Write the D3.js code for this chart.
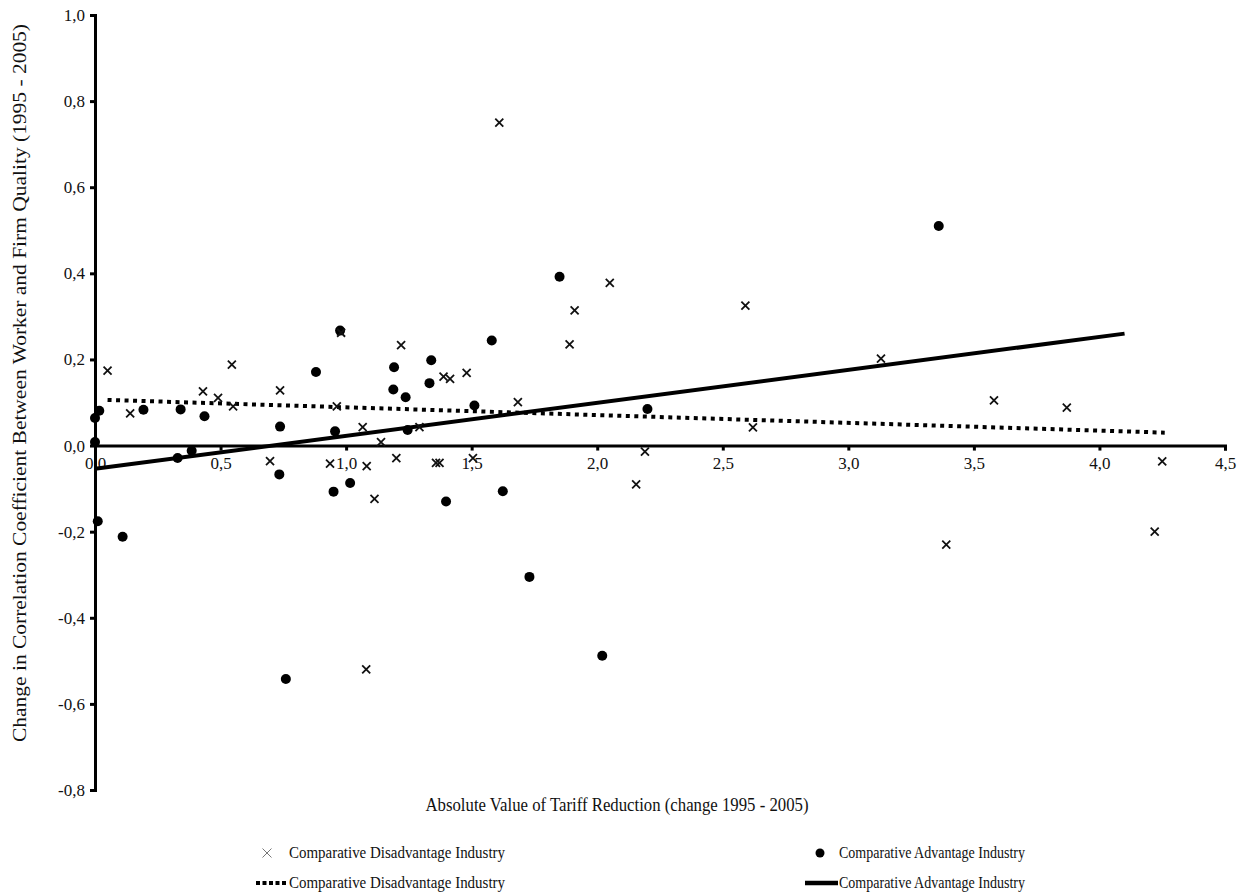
<!DOCTYPE html>
<html>
<head>
<meta charset="utf-8">
<script src="https://cdn.jsdelivr.net/npm/d3@7"></script>
<style>
  body { margin: 0; background: #fff; }
  text { font-family: "Liberation Serif", "Times New Roman", serif; fill: #111; }
</style>
</head>
<body>
<div id="chart-div"></div>
<script>
const WIDTH = 1245;
const HEIGHT = 896;

// Comparative Disadvantage Industry (crosses)
const disX = [0.05, 0.14, 0.43, 0.49, 0.545, 0.55, 0.697, 0.737, 0.936, 0.963, 0.98, 1.066, 1.082, 1.113, 1.139, 1.2, 1.219, 1.292, 1.358, 1.372, 1.388, 1.414, 1.48, 1.505, 1.684, 1.08, 1.61, 1.89, 1.91, 2.05, 2.155, 2.19, 2.59, 2.62, 3.13, 3.39, 3.58, 3.87, 4.22, 4.25];
const disY = [0.174, 0.075, 0.126, 0.111, 0.188, 0.091, -0.036, 0.128, -0.042, 0.091, 0.262, 0.043, -0.048, -0.124, 0.008, -0.029, 0.233, 0.043, -0.04, -0.04, 0.16, 0.155, 0.169, -0.029, 0.101, -0.52, 0.75, 0.235, 0.314, 0.378, -0.09, -0.014, 0.325, 0.042, 0.202, -0.23, 0.105, 0.088, -0.2, -0.037];

// Comparative Advantage Industry (dots)
const advX = [0, 0.017, 0, 0.011, 0.11, 0.193, 0.329, 0.341, 0.385, 0.436, 0.734, 0.737, 0.76, 0.88, 0.95, 0.956, 0.976, 1.016, 1.188, 1.191, 1.237, 1.245, 1.332, 1.339, 1.398, 1.511, 1.58, 1.624, 1.73, 1.85, 2.02, 2.2, 3.36];
const advY = [0.064, 0.081, 0.008, -0.176, -0.212, 0.083, -0.029, 0.084, -0.012, 0.068, -0.067, 0.044, -0.542, 0.171, -0.107, 0.033, 0.267, -0.087, 0.13, 0.182, 0.112, 0.036, 0.145, 0.198, -0.13, 0.093, 0.244, -0.106, -0.305, 0.392, -0.488, 0.085, 0.51];

// linear trend lines (end points)
const trendDisX = [0.05, 4.26];
const trendDisY = [0.106, 0.03];
const trendAdvX = [0, 4.1];
const trendAdvY = [-0.054, 0.26];

const xTicks = [0, 0.5, 1, 1.5, 2, 2.5, 3, 3.5, 4, 4.5];
const yTicks = [-0.8, -0.6, -0.4, -0.2, 0, 0.2, 0.4, 0.6, 0.8, 1.0];

const X_TITLE = "Absolute Value of Tariff Reduction (change 1995 - 2005)";
const Y_TITLE = "Change in Correlation Coefficient Between Worker and Firm Quality (1995 - 2005)";
const LEGEND = ["Comparative Disadvantage Industry", "Comparative Advantage Industry"];

const fmt = (d) => d.toFixed(1).replace(".", ",");

const svg = d3.select("#chart-div").append("svg")
  .attr("width", WIDTH)
  .attr("height", HEIGHT);

const xscale = d3.scaleLinear().domain([0, 4.5]).range([95, 1225]);
const yscale = d3.scaleLinear().domain([-0.8, 1.0]).range([790, 15]);

// y axis at x = 0
const yAxis = d3.axisLeft(yscale).tickValues(yTicks).tickFormat(fmt).tickSize(5).tickPadding(5);
const gy = svg.append("g")
  .attr("transform", `translate(${xscale(0)},0)`)
  .call(yAxis);
gy.select(".domain").attr("stroke", "#000").attr("stroke-width", 3);
gy.selectAll(".tick line").attr("stroke", "#000").attr("stroke-width", 3);
gy.selectAll(".tick text").style("font-size", "17px").attr("fill", "#222");

// x axis at y = 0
const xAxis = d3.axisBottom(xscale).tickValues(xTicks).tickFormat(fmt).tickSize(5).tickPadding(6);
const gx = svg.append("g")
  .attr("transform", `translate(0,${yscale(0)})`)
  .call(xAxis);
gx.select(".domain").attr("stroke", "#000").attr("stroke-width", 3);
gx.selectAll(".tick line").attr("stroke", "#000").attr("stroke-width", 3);
gx.selectAll(".tick text").style("font-size", "17px").attr("fill", "#222");

// trend lines
const line = d3.line().x((d) => xscale(d[0])).y((d) => yscale(d[1]));

svg.append("path")
  .datum(d3.zip(trendDisX, trendDisY))
  .attr("d", line)
  .attr("fill", "none")
  .attr("stroke", "#000")
  .attr("stroke-width", 4)
  .attr("stroke-dasharray", "4 4.5");

svg.append("path")
  .datum(d3.zip(trendAdvX, trendAdvY))
  .attr("d", line)
  .attr("fill", "none")
  .attr("stroke", "#000")
  .attr("stroke-width", 4);

// dots
svg.append("g")
  .selectAll("circle")
  .data(d3.zip(advX, advY))
  .enter()
  .append("circle")
  .attr("cx", (d) => xscale(d[0]))
  .attr("cy", (d) => yscale(d[1]))
  .attr("r", 5)
  .attr("fill", "#000");

// crosses
const crossPath = (cx, cy, s) =>
  `M${cx - s},${cy - s}L${cx + s},${cy + s}M${cx - s},${cy + s}L${cx + s},${cy - s}`;

svg.append("g")
  .selectAll("path")
  .data(d3.zip(disX, disY))
  .enter()
  .append("path")
  .attr("d", (d) => crossPath(xscale(d[0]), yscale(d[1]), 4))
  .attr("stroke", "#111")
  .attr("stroke-width", 1.8)
  .attr("fill", "none");

// axis titles
svg.append("text")
  .attr("x", 617)
  .attr("y", 811)
  .attr("text-anchor", "middle")
  .attr("textLength", 383)
  .attr("lengthAdjust", "spacingAndGlyphs")
  .style("font-size", "18px")
  .text(X_TITLE);

svg.append("text")
  .attr("transform", "translate(26,383) rotate(-90)")
  .attr("text-anchor", "middle")
  .attr("textLength", 718)
  .attr("lengthAdjust", "spacingAndGlyphs")
  .style("font-size", "18px")
  .text(Y_TITLE);

// legend
const legend = svg.append("g").style("font-size", "16px");

legend.append("path")
  .attr("d", crossPath(267, 853, 4.5))
  .attr("stroke", "#777")
  .attr("stroke-width", 1)
  .attr("fill", "none");
legend.append("text").attr("x", 289).attr("y", 858).attr("textLength", 216).attr("lengthAdjust", "spacingAndGlyphs").text(LEGEND[0]);

legend.append("circle").attr("cx", 820).attr("cy", 853).attr("r", 4.5).attr("fill", "#000");
legend.append("text").attr("x", 839).attr("y", 858).attr("textLength", 186).attr("lengthAdjust", "spacingAndGlyphs").text(LEGEND[1]);

legend.append("line")
  .attr("x1", 256).attr("x2", 288).attr("y1", 883).attr("y2", 883)
  .attr("stroke", "#000").attr("stroke-width", 4).attr("stroke-dasharray", "4 2.5");
legend.append("text").attr("x", 289).attr("y", 888).attr("textLength", 216).attr("lengthAdjust", "spacingAndGlyphs").text(LEGEND[0]);

legend.append("line")
  .attr("x1", 805).attr("x2", 838).attr("y1", 883).attr("y2", 883)
  .attr("stroke", "#000").attr("stroke-width", 4.5);
legend.append("text").attr("x", 839).attr("y", 888).attr("textLength", 186).attr("lengthAdjust", "spacingAndGlyphs").text(LEGEND[1]);
</script>
</body>
</html>
